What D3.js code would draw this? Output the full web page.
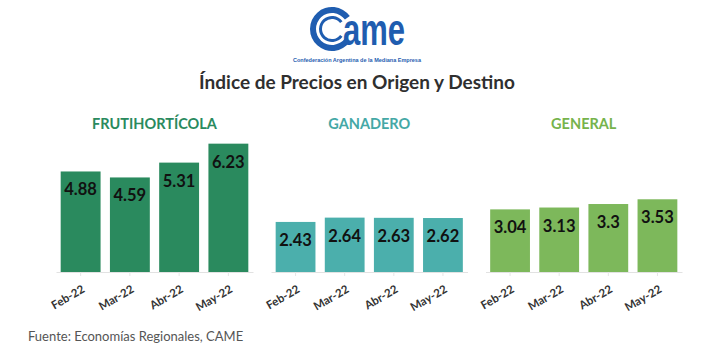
<!DOCTYPE html>
<html>
<head>
<meta charset="utf-8">
<title>Índice de Precios en Origen y Destino</title>
<script src="https://cdn.jsdelivr.net/npm/d3@7"></script>
<style>
  body { margin: 0; background: #fff; }
  svg { display: block; font-family: Lato, "Open Sans", sans-serif; }
</style>
</head>
<body>
<script>
    // data
    var months = ["Feb-22", "Mar-22", "Abr-22", "May-22"];
    var panelNames = ["FRUTIHORTÍCOLA", "GANADERO", "GENERAL"];
    var frutihorticola = [4.88, 4.59, 5.31, 6.23];
    var ganadero = [2.43, 2.64, 2.63, 2.62];
    var general = [3.04, 3.13, 3.3, 3.53];

    var width = 706, height = 353;
    var baseY = 272;

    var svg = d3.select("body").append("svg")
            .attr("width", width)
            .attr("height", height);

    // logo (approximate drawing) - C opens to the right
    var logo = svg.append("g").attr("class", "logo");
    var blue = "#1f5db0";
    var open = Math.PI * 0.2;
    logo.append("path")
        .attr("d", d3.arc()({innerRadius: 16, outerRadius: 22,
            startAngle: Math.PI / 2 + open, endAngle: Math.PI * 2.5 - open}))
        .attr("transform", "translate(332,29)")
        .attr("fill", blue);
    logo.append("path")
        .attr("d", d3.arc()({innerRadius: 10, outerRadius: 13,
            startAngle: Math.PI / 2 + open, endAngle: Math.PI * 2.5 - open}))
        .attr("transform", "translate(332,29)")
        .attr("fill", blue);
    logo.append("text")
        .attr("x", 343).attr("y", 45)
        .attr("font-family", "'Liberation Sans', Arial, sans-serif")
        .attr("font-weight", "bold")
        .attr("font-size", 44)
        .attr("textLength", 62)
        .attr("lengthAdjust", "spacingAndGlyphs")
        .attr("fill", blue)
        .text("ame");
    logo.append("text")
        .attr("x", 357).attr("y", 62)
        .attr("text-anchor", "middle")
        .attr("font-family", "'Liberation Sans', Arial, sans-serif")
        .attr("font-weight", "bold")
        .attr("font-size", 5.5)
        .attr("textLength", 128)
        .attr("lengthAdjust", "spacingAndGlyphs")
        .attr("fill", blue)
        .text("Confederación Argentina de la Mediana Empresa");

    // title
    svg.append("text")
        .attr("x", 357).attr("y", 89)
        .attr("text-anchor", "middle")
        .attr("font-weight", "bold")
        .attr("font-size", 19)
        .attr("fill", "#2f2f2f")
        .text("Índice de Precios en Origen y Destino");

    var y = d3.scaleLinear().domain([0, 7]).range([baseY, baseY - 7 * 20.6]);

    var panels = [
        {name: panelNames[0], values: frutihorticola, range: [56, 253], bar: "#2a8a5e", title: "#2a8a5e"},
        {name: panelNames[1], values: ganadero, range: [271, 467.5], bar: "#4bafac", title: "#45a8a6"},
        {name: panelNames[2], values: general, range: [485.5, 682], bar: "#7db85b", title: "#76b34c"}
    ];

    panels.forEach(function (p) {
        var x = d3.scaleBand()
                .domain(months)
                .range(p.range)
                .paddingInner(0.19)
                .paddingOuter(0.095);

        var g = svg.append("g").attr("class", "panel");

        g.append("text")
            .attr("x", (p.range[0] + p.range[1]) / 2)
            .attr("y", 129)
            .attr("text-anchor", "middle")
            .attr("font-weight", "bold")
            .attr("font-size", 14.5)
            .attr("fill", p.title)
            .text(p.name);

        var data = months.map(function (m, i) { return {m: m, v: p.values[i]}; });

        g.selectAll("rect.bar")
            .data(data)
            .enter().append("rect")
            .attr("class", "bar")
            .attr("x", function (d) { return x(d.m); })
            .attr("y", function (d) { return y(d.v); })
            .attr("width", x.bandwidth())
            .attr("height", function (d) { return y(0) - y(d.v); })
            .attr("fill", p.bar);

        g.selectAll("text.val")
            .data(data)
            .enter().append("text")
            .attr("class", "val")
            .attr("x", function (d) { return x(d.m) + x.bandwidth() / 2; })
            .attr("y", function (d) { return y(d.v) + 24; })
            .attr("text-anchor", "middle")
            .attr("font-weight", "bold")
            .attr("font-size", 16.5)
            .attr("fill", "#111")
            .text(function (d) { return d.v; });

        var axis = g.append("g")
            .attr("transform", "translate(0," + baseY + ")")
            .call(d3.axisBottom(x).tickSize(4).tickSizeOuter(0));
        axis.select(".domain").attr("stroke", "#e2e2e2");
        axis.selectAll(".tick line").attr("stroke", "#e6e6e6");
        axis.selectAll(".tick text")
            .attr("x", 0).attr("y", 0).attr("dy", "0.35em")
            .attr("text-anchor", "end")
            .attr("transform", "translate(3,16) rotate(-30)")
            .attr("font-family", "Lato, sans-serif")
            .attr("font-weight", "bold")
            .attr("font-size", 11.5)
            .attr("fill", "#333");
    });

    // source note
    svg.append("text")
        .attr("x", 28).attr("y", 341)
        .attr("font-size", 13)
        .attr("fill", "#555")
        .text("Fuente: Economías Regionales, CAME");
</script>
</body>
</html>
